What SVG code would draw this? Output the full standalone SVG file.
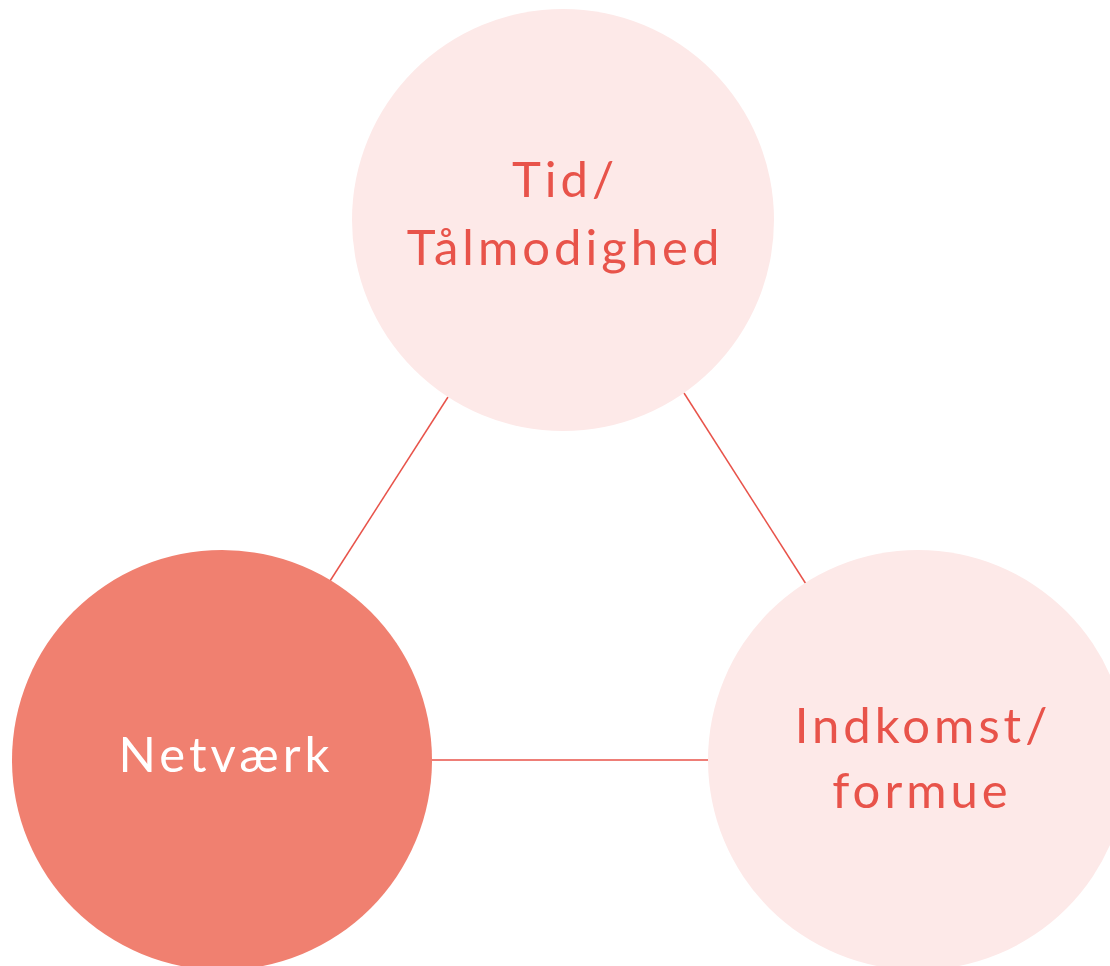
<svg xmlns="http://www.w3.org/2000/svg" width="1110" height="966" viewBox="0 0 1110 966">
<style>
.soft{fill:#fde9e8}
.strong{fill:#f08070}
.lbl{font-family:Lato,"Noto Sans","Liberation Sans",sans-serif;font-size:49px;letter-spacing:4px;text-anchor:middle}
.red{fill:#e8534a}
.white{fill:#ffffff}
.conn{stroke:#e8534a;stroke-width:1.5;fill:none}
</style>
<rect width="1110" height="966" fill="#ffffff"/>
<g id="connectors">
<line class="conn" x1="448" y1="397" x2="330" y2="581"/>
<line class="conn" x1="684" y1="393" x2="806" y2="584"/>
<line class="conn" x1="432" y1="760" x2="708" y2="760"/>
</g>
<g id="node-tid">
<circle class="soft" cx="563" cy="220" r="211"/>
<text class="lbl red" x="565" y="197">Tid/</text>
<text class="lbl red" x="565" y="265">Tålmodighed</text>
</g>
<g id="node-netvaerk">
<circle class="strong" cx="222" cy="760" r="210"/>
<text class="lbl white" x="226" y="772">Netværk</text>
</g>
<g id="node-indkomst">
<circle class="soft" cx="918" cy="760" r="210"/>
<text class="lbl red" x="923" y="743">Indkomst/</text>
<text class="lbl red" x="922" y="808">formue</text>
</g>
</svg>
